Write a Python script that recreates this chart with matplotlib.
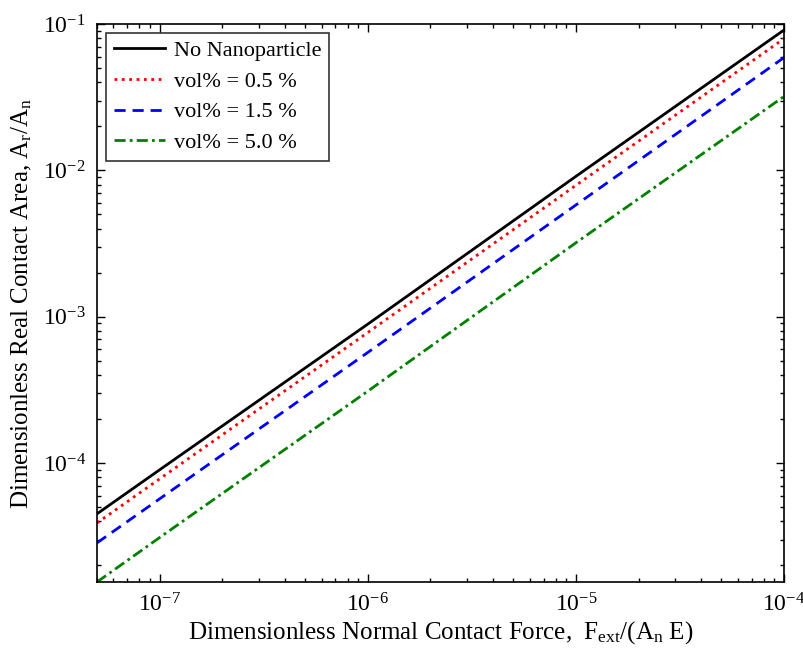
import matplotlib
matplotlib.use("Agg")
import matplotlib.pyplot as plt
import numpy as np

plt.rcParams['font.family'] = ['Liberation Serif', 'DejaVu Serif']
plt.rcParams['mathtext.fontset'] = 'custom'
plt.rcParams['mathtext.rm'] = 'Liberation Serif'
plt.rcParams['mathtext.it'] = 'Liberation Serif:italic'
plt.rcParams['font.size'] = 16

# dimensionless normal force
force = [5e-8, 1e-7, 1e-6, 1e-5, 1e-4]

# dimensionless real contact area for each case
area_none = [4.5e-5, 9.0e-5, 8.9e-4, 9.1e-3, 9.1e-2]
area_05 = [3.9e-5, 7.8e-5, 7.8e-4, 7.9e-3, 7.95e-2]
area_15 = [2.85e-5, 5.7e-5, 5.7e-4, 5.8e-3, 5.9e-2]
area_50 = [1.54e-5, 3.1e-5, 3.1e-4, 3.2e-3, 3.2e-2]

labels = ["No Nanoparticle", "vol% = 0.5 %", "vol% = 1.5 %", "vol% = 5.0 %"]

fig = plt.figure(figsize=(8.04, 6.62), dpi=100)
ax = fig.add_axes([0.1206, 0.1208, 0.8545, 0.8429])

ax.loglog(force, area_none, '-', color='black', lw=2.0, label=labels[0])
ax.loglog(force, area_05, ':', color='red', lw=2.0, label=labels[1])
ax.loglog(force, area_15, '--', color='blue', lw=2.0, label=labels[2], dashes=(4, 2.5))
ax.loglog(force, area_50, '-.', color='green', lw=2.0, label=labels[3], dashes=(4, 1.5, 1, 1.5))

ax.set_xlim(5e-8, 1e-4)
ax.set_ylim(1.54e-5, 1e-1)
ax.set_xticks([1e-7, 1e-6, 1e-5, 1e-4])
ax.set_yticks([1e-4, 1e-3, 1e-2, 1e-1])

ax.tick_params(which='both', direction='in', top=True, right=True, width=1, labelsize=17)
ax.tick_params(which='major', length=6, pad=8)
ax.tick_params(which='minor', length=3)
for sp in ax.spines.values():
    sp.set_linewidth(1.2)

ax.set_xlabel("Dimensionless Normal Contact Force,  F$_\\mathrm{ext}$/(A$_\\mathrm{n}$ E)",
              fontsize=18, labelpad=2)
ax.set_ylabel("Dimensionless Real Contact Area, A$_\\mathrm{r}$/A$_\\mathrm{n}$",
              fontsize=18, labelpad=6)

leg = ax.legend(loc='upper left', fontsize=16, frameon=True, fancybox=False,
                edgecolor='black', handlelength=2.3, borderaxespad=0.4,
                labelspacing=0.45, borderpad=0.35, handletextpad=0.4)
leg.get_frame().set_linewidth(1.2)

fig.savefig("out.png", dpi=100)
